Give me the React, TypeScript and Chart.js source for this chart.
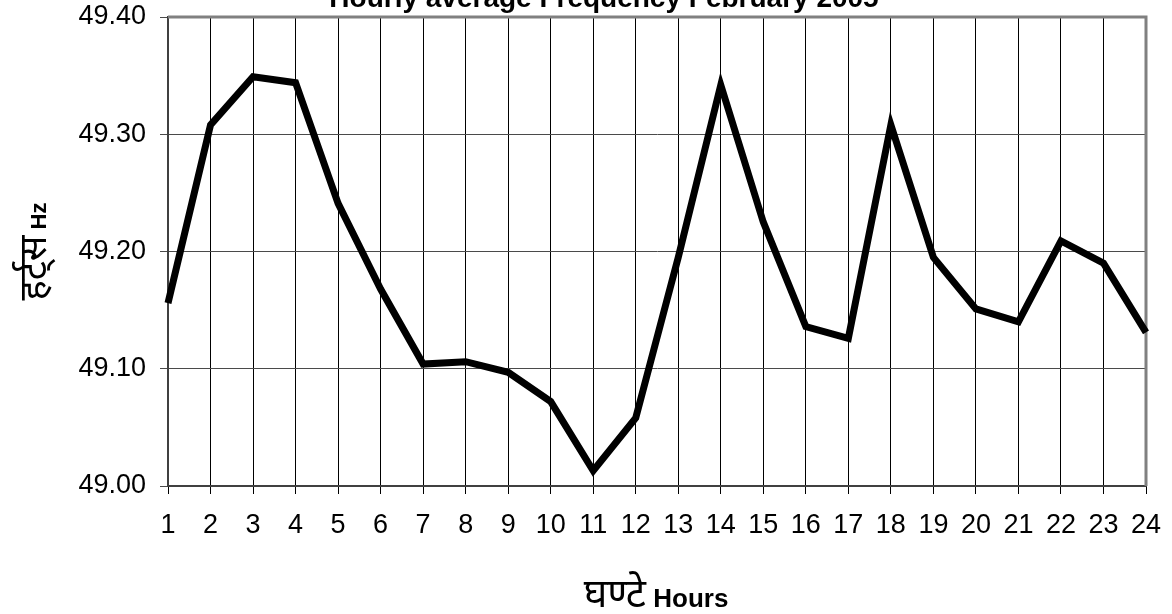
import React, { useEffect, useRef } from "react";
import { Chart, registerables } from "chart.js";

Chart.register(...registerables);

const hours = ["1", "2", "3", "4", "5", "6", "7", "8", "9", "10", "11", "12", "13", "14", "15", "16", "17", "18", "19", "20", "21", "22", "23", "24"];
const frequency = [49.156, 49.308, 49.349, 49.344, 49.241, 49.168, 49.104, 49.106, 49.097, 49.072, 49.013, 49.058, 49.195, 49.342, 49.225, 49.136, 49.126, 49.308, 49.195, 49.151, 49.140, 49.209, 49.190, 49.131];
const yMin = 49.0;
const yMax = 49.4;
const yStep = 0.1;
const chartTitle = "Hourly average Frequency February 2005";
const yTitleParts = ["हर्ट्स", " Hz"];
const xTitleParts = ["घण्टे", " Hours"];

const SANS = "'Liberation Sans', Arial, Helvetica, sans-serif";
const DEVA = "'Noto Sans Devanagari', 'Lohit Devanagari', 'FreeSans', 'Noto Sans', sans-serif";

function drawMixed(ctx: CanvasRenderingContext2D, parts: { text: string; font: string }[], cx: number, baseY: number) {
  let total = 0;
  const widths = parts.map((p) => {
    ctx.font = p.font;
    const w = ctx.measureText(p.text).width;
    total += w;
    return w;
  });
  let x = cx - total / 2;
  ctx.textAlign = "left";
  ctx.textBaseline = "alphabetic";
  parts.forEach((p, i) => {
    ctx.font = p.font;
    ctx.fillText(p.text, x, baseY);
    x += widths[i];
  });
}

const framePlugin = {
  id: "frameBorder",
  beforeDatasetsDraw(chart: any) {
    const { ctx, chartArea: a } = chart;
    ctx.save();
    ctx.strokeStyle = "#808080";
    ctx.lineWidth = 3;
    ctx.beginPath();
    ctx.moveTo(a.left, a.top);
    ctx.lineTo(a.right, a.top);
    ctx.lineTo(a.right, a.bottom);
    ctx.stroke();
    ctx.restore();
  },
};

const textPlugin = {
  id: "customTexts",
  afterDraw(chart: any) {
    const { ctx, chartArea: a } = chart;
    ctx.save();
    ctx.fillStyle = "#000";
    // main title (cut off at top as in reference)
    ctx.font = `bold 28px ${SANS}`;
    ctx.textAlign = "center";
    ctx.textBaseline = "alphabetic";
    ctx.fillText(chartTitle, 604, 7);
    // x-axis title
    drawMixed(
      ctx,
      [
        { text: xTitleParts[0], font: `40px ${DEVA}` },
        { text: xTitleParts[1], font: `bold 26px ${SANS}` },
      ],
      656,
      607
    );
    // y-axis title
    ctx.save();
    ctx.translate(46, (a.top + a.bottom) / 2);
    ctx.rotate(-Math.PI / 2);
    drawMixed(
      ctx,
      [
        { text: yTitleParts[0], font: `38px ${DEVA}` },
        { text: yTitleParts[1], font: `bold 22px ${SANS}` },
      ],
      0,
      0
    );
    ctx.restore();
    ctx.restore();
  },
};

export default function App() {
  const ref = useRef<HTMLCanvasElement | null>(null);
  useEffect(() => {
    document.body.style.margin = "0";
    if (!ref.current) return;
    const chart = new Chart(ref.current, {
      type: "line",
      data: {
        labels: hours,
        datasets: [
          {
            data: frequency,
            borderColor: "#000",
            borderWidth: 7,
            pointRadius: 0,
            tension: 0,
            fill: false,
            clip: 10,
          },
        ],
      },
      options: {
        animation: false,
        responsive: false,
        devicePixelRatio: 1,
        layout: { padding: { top: 17, right: 26, left: 0, bottom: 0 } },
        plugins: {
          legend: { display: false },
          title: { display: false },
          tooltip: { enabled: false },
        },
        scales: {
          x: {
            type: "category",
            offset: false,
            afterFit: (s: any) => {
              s.height = 128;
              s.paddingLeft = 0;
              s.paddingRight = 0;
            },
            grid: {
              color: "#000",
              lineWidth: 1,
              drawTicks: true,
              tickLength: 8,
            },
            border: { color: "#404040", width: 2 },
            ticks: {
              color: "#000",
              font: { family: SANS, size: 27 },
              padding: 15,
              maxRotation: 0,
              autoSkip: false,
            },
          },
          y: {
            type: "linear",
            min: yMin,
            max: yMax,
            afterFit: (s: any) => {
              s.width = 168;
              s.paddingTop = 0;
              s.paddingBottom = 0;
            },
            grid: {
              color: "#4a4a4a",
              lineWidth: 1,
              drawTicks: true,
              tickLength: 8,
            },
            border: { color: "#404040", width: 2 },
            ticks: {
              stepSize: yStep,
              color: "#000",
              font: { family: SANS, size: 27 },
              padding: 14,
              callback: (v: any) => Number(v).toFixed(2),
            },
          },
        },
      },
      plugins: [framePlugin, textPlugin],
    });
    return () => chart.destroy();
  }, []);
  return (
    <div style={{ width: 1172, height: 614, background: "#fff" }}>
      <canvas ref={ref} width={1172} height={614} style={{ display: "block" }} />
    </div>
  );
}
